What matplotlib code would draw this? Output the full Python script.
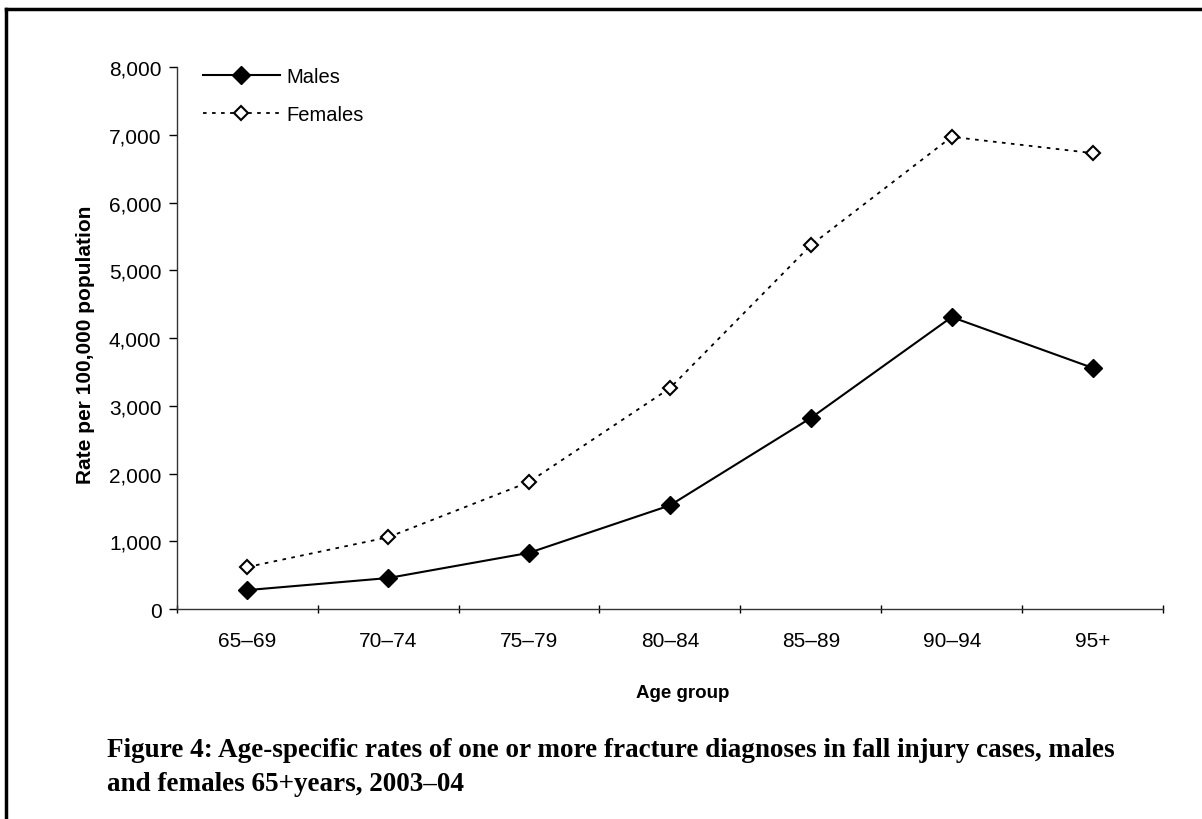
import matplotlib
matplotlib.use('Agg')
import matplotlib.pyplot as plt
from matplotlib.lines import Line2D
from matplotlib.ticker import FuncFormatter
import numpy as np

# Data
age_groups = ['65\u201369', '70\u201374', '75\u201379', '80\u201384', '85\u201389', '90\u201394', '95+']
males = [280, 458, 830, 1530, 2820, 4310, 3560]
females = [620, 1060, 1875, 3260, 5370, 6970, 6730]
y_ticks = [0, 1000, 2000, 3000, 4000, 5000, 6000, 7000, 8000]

plt.rcParams['font.family'] = ['Liberation Sans', 'DejaVu Sans']

fig = plt.figure(figsize=(12.02, 8.2), dpi=100)
ax = fig.add_axes([0.147, 0.256, 0.8206, 0.661])

x = np.arange(len(age_groups))
ax.plot(x, males, color='black', lw=1.5, marker='D', ms=9,
        mfc='black', mec='black', label='Males')
ax.plot(x, females, color='black', lw=1.3, ls=(0, (2, 3)), marker='D', ms=7.5,
        mfc='white', mec='black', mew=1.5, label='Females')

ax.set_xlim(-0.5, len(age_groups) - 0.5)
ax.set_ylim(0, 8000)
ax.set_yticks(y_ticks)
ax.yaxis.set_major_formatter(FuncFormatter(lambda v, p: '{:,.0f}'.format(v)))
ax.set_xticks(x)
ax.set_xticklabels(age_groups)
ax.set_xticks(np.arange(-0.5, len(age_groups)), minor=True)
ax.tick_params(axis='x', which='major', length=0, pad=16, labelsize=15)
ax.tick_params(axis='x', which='minor', length=6, width=1, direction='inout')
ax.tick_params(axis='y', length=6, width=1, direction='out', pad=5, labelsize=15)

for s in ['top', 'right']:
    ax.spines[s].set_visible(False)
for s in ['left', 'bottom']:
    ax.spines[s].set_linewidth(1)
    ax.spines[s].set_color('#333333')

ax.set_ylabel('Rate per 100,000 population', fontsize=15, fontweight='bold')
ax.yaxis.set_label_coords(-0.083, 0.49)
ax.set_xlabel('Age group', fontsize=13.5, fontweight='bold')
ax.xaxis.set_label_coords(0.513, -0.138)

ax.legend(loc='upper left', bbox_to_anchor=(0.008, 1.034), frameon=False,
          fontsize=14.5, handlelength=3.85, handletextpad=0.3, labelspacing=0.95)

# outer frame
fig.add_artist(Line2D([0.005, 1.0], [0.988, 0.988], color='black', lw=2.5,
                      transform=fig.transFigure))
fig.add_artist(Line2D([0.005, 0.005], [0.0, 0.988], color='black', lw=2.5,
                      transform=fig.transFigure))

fig.text(0.089, 0.028,
         'Figure 4: Age-specific rates of one or more fracture diagnoses in fall injury cases, males\n'
         'and females 65+years, 2003\u201304',
         fontsize=19.5, fontweight='bold', family=['Liberation Serif', 'DejaVu Serif'],
         linespacing=1.45, va='bottom', ha='left')

fig.savefig('out.png', dpi=100)
